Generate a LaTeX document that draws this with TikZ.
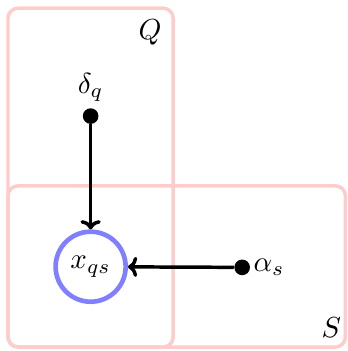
\documentclass[tikz,border=0pt]{standalone}
\usepackage{amsmath,amssymb}
\usetikzlibrary{arrows.meta,positioning,calc}

\begin{document}
\begin{tikzpicture}[
	plate/.style={draw=red!20,line width=1.2pt,rounded corners=3.5pt},
	latent/.style={circle,draw=blue!50,line width=1.6pt,minimum size=0.85cm,inner sep=0pt},
	param/.style={circle,fill=black,minimum size=5.4pt,inner sep=0pt},
	arr/.style={-{To[length=3.2pt,width=7pt]},line width=1.2pt}]
			\useasboundingbox (0,0) rectangle (4.22,4.26);
			% plates
			\draw[plate] (0.097,0.048) rectangle (2.102,4.161);
			\draw[plate] (0.097,0.048) rectangle (4.193,2.005);
			\node (Q) at (1.82,3.87) {$Q$};
			\node (S) at (4.02,0.28) {$S$};
			
			\node[latent] (xqs) at (1.100,1.023) {$x_{qs}$};
			\node[param,label={[label distance=-1.5pt]above:$\delta_q$}] (dq) at (1.100,2.851) {};
			\node[param,label={[label distance=-2.5pt]right:$\alpha_s$}] (as) at (2.939,1.015) {};
			
			\draw[arr] (dq)--(xqs);
			\draw[arr] (as)--(xqs);
		\end{tikzpicture}
\end{document}
